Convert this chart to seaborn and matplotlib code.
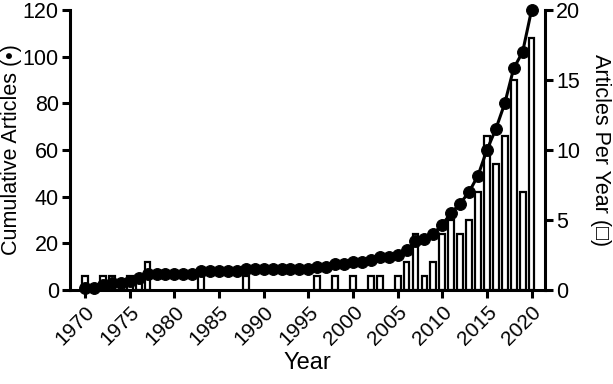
import seaborn as sns
import pandas as pd
import matplotlib.pyplot as plt

years = list(range(1970, 2021))
per_year = [1, 0, 1, 1, 0, 1, 1, 2, 0, 0,
            0, 0, 0, 1, 0, 0, 0, 0, 1, 0,
            0, 0, 0, 0, 0, 0, 1, 0, 1, 0,
            1, 0, 1, 1, 0, 1, 2, 4, 1, 2,
            4, 5, 4, 5, 7, 11, 9, 11, 15, 7,
            18]
cumulative = [1, 1, 2, 3, 3, 4, 5, 7, 7, 7,
              7, 7, 7, 8, 8, 8, 8, 8, 9, 9,
              9, 9, 9, 9, 9, 9, 10, 10, 11, 11,
              12, 12, 13, 14, 14, 15, 17, 21, 22, 24,
              28, 33, 37, 42, 49, 60, 69, 80, 95, 102,
              120]

sns.set_style("ticks", {"axes.edgecolor": "black", "text.color": "black",
                        "axes.labelcolor": "black", "xtick.color": "black",
                        "ytick.color": "black"})
plt.rcParams['font.family'] = ['Liberation Sans', 'DejaVu Sans']

df = pd.DataFrame({"year": years, "per_year": per_year, "cumulative": cumulative})
bars = df[df["per_year"] > 0]

fig = plt.figure(figsize=(6.13, 3.84), dpi=100)
ax = fig.add_axes([0.114, 0.245, 0.775, 0.729])
ax2 = ax.twinx()

sns.barplot(data=bars, x="year", y="per_year", native_scale=True, ax=ax2,
            color="white", edgecolor="black", linewidth=1.6, width=0.65, saturation=1)
sns.lineplot(data=df, x="year", y="cumulative", ax=ax, color="black", linewidth=2.2,
             marker="o", markersize=8.5, markeredgecolor="black", clip_on=False)

ax.set_zorder(ax2.get_zorder() + 1)
ax.patch.set_visible(False)

ax.set_xlim(1968.3, 2021.5)
ax.set_ylim(0, 120)
ax2.set_ylim(0, 20)
ax.set_yticks(range(0, 121, 20))
ax2.set_yticks(range(0, 21, 5))
ax.set_xticks(range(1970, 2021, 5))
ax.set_xticklabels([str(y) for y in range(1970, 2021, 5)], rotation=45,
                   ha="right", rotation_mode="anchor")

for a in (ax, ax2):
    a.spines["top"].set_visible(False)
    for s in ("left", "right", "bottom"):
        a.spines[s].set_linewidth(2.2)
        a.spines[s].set_color("black")
    a.tick_params(width=2.2, length=6, labelsize=15.5, pad=2, colors="black")
ax.tick_params(axis="x", labelsize=15, pad=3)
ax.spines["right"].set_visible(False)
ax2.spines["left"].set_visible(False)
ax2.spines["bottom"].set_visible(False)

ax.set_xlabel("Year", fontsize=17, color="black")
ax.xaxis.set_label_coords(0.5, -0.221)
ax.set_ylabel("Cumulative Articles (•)", fontsize=15.5, va="center", color="black")
ax.yaxis.set_label_coords(-0.122, 0.5)
ax2.set_ylabel("Articles Per Year (□)", fontsize=15.5, rotation=270, va="center", color="black")
ax2.yaxis.set_label_coords(1.116, 0.5)

fig.savefig("out.png", dpi=100)
